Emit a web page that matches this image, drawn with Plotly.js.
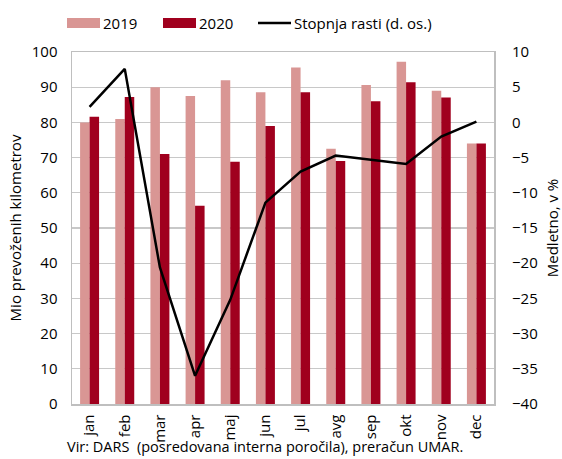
<!DOCTYPE html>
<html>
<head>
<meta charset="utf-8">
<script src="https://cdn.plot.ly/plotly-3.0.1.min.js"></script>
<style>html,body{margin:0;padding:0;background:#fff;}#chart{width:562px;height:459px;}</style>
</head>
<body>
<div id="chart"></div>
<script>
const months = ["jan","feb","mar","apr","maj","jun","jul","avg","sep","okt","nov","dec"];
const km2019 = [80, 81, 90, 87.5, 92, 88.6, 95.6, 72.5, 90.6, 97.2, 89, 74];
const km2020 = [81.6, 87.2, 71, 56.3, 68.8, 79, 88.6, 69, 86, 91.4, 87.1, 74];
const growth = [2.2, 7.6, -20.6, -36, -25.2, -11.4, -7.0, -4.7, -5.3, -5.9, -2.0, 0.1];
const yLeftTicks = [0,10,20,30,40,50,60,70,80,90,100];
const yRightTicks = [-40,-35,-30,-25,-20,-15,-10,-5,0,5,10];
const seriesNames = ["2019", "2020", "Stopnja rasti (d. os.)"];
const colors = ["#D99694", "#A0001E", "#000000"];

const font = "Open Sans, Noto Sans, sans-serif";
const data = [
  {type:"bar", name:seriesNames[0], x:months, y:km2019, marker:{color:colors[0]}},
  {type:"bar", name:seriesNames[1], x:months, y:km2020, marker:{color:colors[1]}},
  {type:"scatter", mode:"lines", name:seriesNames[2], x:months, y:growth, yaxis:"y2",
   line:{color:colors[2], width:2.5}}
];

// manual legend (wide swatches like the reference)
const W = 422, H = 352, L = 72, T = 52;
const px = v => (v - L) / W;
const py = v => (T + H - v) / H;
const legendItems = [
  {x0:67, x1:100, tx:103, kind:"rect"},
  {x0:163, x1:196, tx:199, kind:"rect"},
  {x0:258, x1:291, tx:294, kind:"line"}
];
const shapes = [];
const annotations = [];
legendItems.forEach((it, i) => {
  if (it.kind === "rect") {
    shapes.push({type:"rect", xref:"paper", yref:"paper", x0:px(it.x0), x1:px(it.x1),
      y0:py(28), y1:py(18), fillcolor:colors[i], line:{width:0}});
  } else {
    shapes.push({type:"line", xref:"paper", yref:"paper", x0:px(it.x0), x1:px(it.x1),
      y0:py(23), y1:py(23), line:{color:colors[i], width:2.5}});
  }
  annotations.push({xref:"paper", yref:"paper", x:px(it.tx), y:py(23), xanchor:"left", yanchor:"middle",
    showarrow:false, text:seriesNames[i], font:{size:15}, xshift:-2});
});
annotations.push({xref:"paper", yref:"paper", x:px(66), y:py(457), xanchor:"left", yanchor:"bottom",
  showarrow:false, text:"Vir: DARS  (posredovana interna poročila), preračun UMAR.", font:{size:14.5},
  borderpad:0});

const layout = {
  width:562, height:459,
  margin:{l:72, r:68, t:52, b:55, autoexpand:false},
  paper_bgcolor:"#fff", plot_bgcolor:"#fff",
  font:{family:font, size:15, color:"#000"},
  barmode:"group", bargap:0.46, bargroupgap:0,
  showlegend:false,
  xaxis:{type:"category", tickangle:-90, showline:true, linecolor:"#bfbfbf", linewidth:1.5,
         mirror:true, showgrid:false, ticks:"", tickfont:{size:15}, ticklabelstandoff:3},
  yaxis:{range:[0,100], tickvals:yLeftTicks, showgrid:true, gridcolor:"#c8c8c8", gridwidth:1.2,
         showline:true, linecolor:"#bfbfbf", linewidth:1.5, mirror:true, ticks:"", zeroline:false,
         tickfont:{size:15}, ticklabelstandoff:10,
         title:{text:"Mio prevoženih kilometrov", font:{size:15}, standoff:6}},
  yaxis2:{overlaying:"y", side:"right", range:[-40,10], tickvals:yRightTicks, showgrid:false,
          zeroline:false, ticks:"", tickfont:{size:15}, ticklabelstandoff:17,
          title:{text:"Medletno, v %", font:{size:15}, standoff:10}},
  shapes:shapes,
  annotations:annotations
};
Plotly.newPlot("chart", data, layout, {staticPlot:true, displayModeBar:false});
</script>
</body>
</html>
